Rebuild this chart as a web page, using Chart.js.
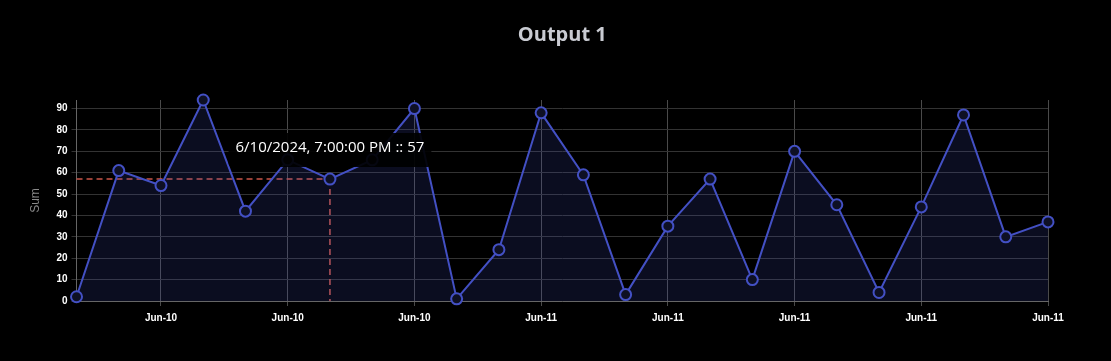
<!DOCTYPE html>
<html lang="en">
<head>
  <meta charset="UTF-8">
  <title>Output 1</title>
  <script src="https://cdn.jsdelivr.net/npm/chart.js"></script>
  <style>
    html, body {
      margin: 0;
      padding: 0;
      background-color: #000;
    }
    .wrap {
      width: 1111px;
      height: 361px;
    }
  </style>
</head>
<body>

<div class="wrap">
  <canvas id="chart" width="1111" height="361"></canvas>
</div>

<script>
// hourly timestamps
const times = [
  "6/10/2024, 1:00:00 PM", "6/10/2024, 2:00:00 PM", "6/10/2024, 3:00:00 PM",
  "6/10/2024, 4:00:00 PM", "6/10/2024, 5:00:00 PM", "6/10/2024, 6:00:00 PM",
  "6/10/2024, 7:00:00 PM", "6/10/2024, 8:00:00 PM", "6/10/2024, 9:00:00 PM",
  "6/10/2024, 10:00:00 PM", "6/10/2024, 11:00:00 PM", "6/11/2024, 12:00:00 AM",
  "6/11/2024, 1:00:00 AM", "6/11/2024, 2:00:00 AM", "6/11/2024, 3:00:00 AM",
  "6/11/2024, 4:00:00 AM", "6/11/2024, 5:00:00 AM", "6/11/2024, 6:00:00 AM",
  "6/11/2024, 7:00:00 AM", "6/11/2024, 8:00:00 AM", "6/11/2024, 9:00:00 AM",
  "6/11/2024, 10:00:00 AM", "6/11/2024, 11:00:00 AM", "6/11/2024, 12:00:00 PM"
];

const sums = [2, 61, 54, 94, 42, 66, 57, 66, 90, 1, 24, 88, 59, 3, 35, 57, 10, 70, 45, 4, 44, 87, 30, 37];

// shown every 3 hours
const tickLabels = [
  null, null, "Jun-10", null, null, "Jun-10", null, null, "Jun-10", null, null, "Jun-11",
  null, null, "Jun-11", null, null, "Jun-11", null, null, "Jun-11", null, null, "Jun-11"
];

const hoverIndex = 6;

const crosshair = {
  id: "crosshair",
  beforeDatasetsDraw(chart) {
    const pt = chart.getDatasetMeta(0).data[hoverIndex];
    const area = chart.chartArea;
    const ctx = chart.ctx;
    ctx.save();
    ctx.strokeStyle = "#cc5548";
    ctx.lineWidth = 1.5;
    ctx.setLineDash([6, 4]);
    ctx.beginPath();
    ctx.moveTo(area.left, pt.y);
    ctx.lineTo(pt.x, pt.y);
    ctx.moveTo(pt.x, pt.y);
    ctx.lineTo(pt.x, area.bottom);
    ctx.stroke();
    ctx.restore();
  },
  afterDraw(chart) {
    const pt = chart.getDatasetMeta(0).data[hoverIndex];
    const ctx = chart.ctx;
    const text = times[hoverIndex] + " :: " + sums[hoverIndex];
    ctx.save();
    ctx.font = "15px 'Open Sans'";
    const w = ctx.measureText(text).width;
    const padX = 7, h = 34;
    const x = pt.x - w / 2 - padX;
    const y = pt.y - 12 - h;
    ctx.fillStyle = "rgba(0,0,0,0.92)";
    ctx.beginPath();
    ctx.roundRect(x, y, w + padX * 2, h, 4);
    ctx.fill();
    ctx.fillStyle = "#fff";
    ctx.textBaseline = "middle";
    ctx.fillText(text, x + padX, y + 15);
    ctx.restore();
  }
};

new Chart(document.getElementById("chart").getContext("2d"), {
  type: "line",
  data: {
    labels: times,
    datasets: [{
      label: "Sum",
      data: sums,
      borderColor: "#4350c4",
      backgroundColor: "rgba(63,75,190,0.17)",
      borderWidth: 2,
      fill: "origin",
      tension: 0,
      clip: false,
      pointRadius: 5.5,
      pointBorderWidth: 2,
      pointBackgroundColor: "#0e1024",
      pointBorderColor: "#4350c4"
    }]
  },
  options: {
    responsive: false,
    animation: false,
    layout: {
      padding: { top: 15, left: 24, right: 63, bottom: 31 }
    },
    plugins: {
      legend: { display: false },
      tooltip: { enabled: false },
      title: {
        display: true,
        text: "Output 1",
        color: "#c9cbd2",
        fullSize: false,
        font: { family: "'Open Sans'", size: 20, weight: "bold" },
        padding: { top: 8, bottom: 53 }
      }
    },
    scales: {
      x: {
        grid: { color: "#4a4a4a", tickLength: 5 },
        border: { color: "#666" },
        ticks: {
          color: "#fff",
          autoSkip: false,
          maxRotation: 0,
          padding: 6,
          font: { family: "'Liberation Sans'", size: 10, weight: "bold" },
          callback: (v, i) => tickLabels[i]
        }
      },
      y: {
        min: 0,
        max: Math.max(...sums),
        grid: { color: "#333", tickLength: 5 },
        border: { color: "#666" },
        ticks: {
          stepSize: 10,
          includeBounds: false,
          color: "#fff",
          padding: 4,
          font: { family: "'Liberation Sans'", size: 10, weight: "bold" }
        },
        title: {
          display: true,
          text: "Sum",
          color: "#8a8a8a",
          padding: { top: 4, bottom: 10 },
          font: { family: "'Liberation Sans'", size: 12 }
        }
      }
    }
  },
  plugins: [crosshair]
});
</script>

</body>
</html>
